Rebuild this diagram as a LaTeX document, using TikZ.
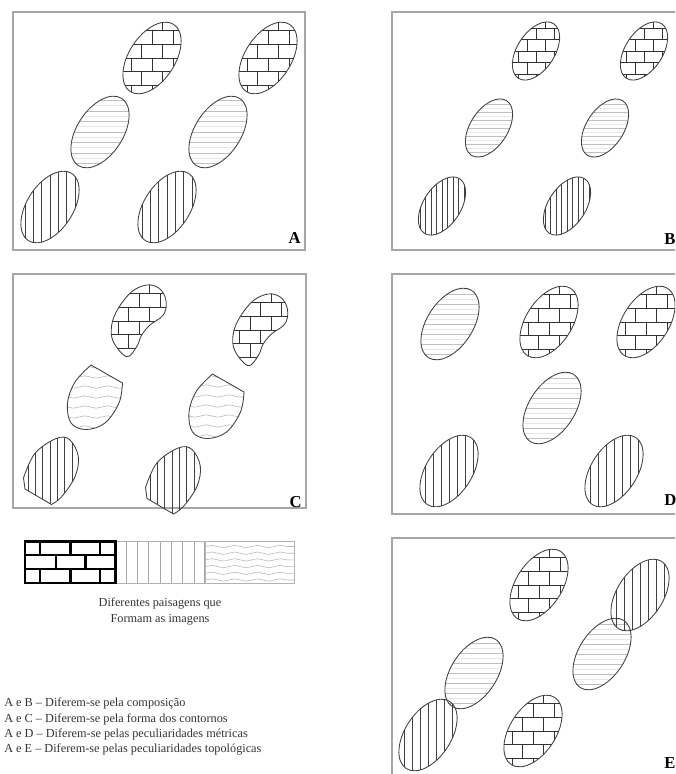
\documentclass[tikz,border=0pt]{standalone}
\usepackage{fontspec}
\setmainfont{Liberation Serif}
\usetikzlibrary{decorations.pathmorphing}

\tikzset{
  frame/.style={draw=gray!70, line width=1.1pt},
  outline/.style={draw=black!75, line width=0.65pt},
  brickline/.style={draw=black!80, line width=0.6pt},
  vline/.style={draw=black!75, line width=0.5pt},
  hline/.style={draw=gray!50, line width=0.45pt},
  hfaint/.style={draw=gray!18, line width=0.4pt},
  wline/.style={draw=gray!55, line width=0.45pt, decorate,
    decoration={snake, amplitude=0.9pt, segment length=17pt}},
  plabel/.style={font=\fontsize{12.5}{12.5}\selectfont\bfseries, inner sep=0pt},
  txt/.style={font=\fontsize{9.2}{11}\selectfont, text=black!80, inner sep=0pt},
  lbrick/.style={draw=black, line width=1.6pt},
  lgray/.style={draw=gray!60, line width=0.6pt}
}

% brick pattern: cx cy R w h
\newcommand\brickpat[5]{%
  \foreach \i in {-4,...,4}{%
    \draw[brickline] ({#1-#3},{#2+\i*#5}) -- ({#1+#3},{#2+\i*#5});
    \foreach \j in {-4,...,4}{%
      \draw[brickline] ({#1+\j*#4+mod(abs(\i),2)*#4/2},{#2+\i*#5}) -- ++(0,{#5});
    }%
  }%
}
% vertical lines: cx cy R spacing
\newcommand\vpat[4]{%
  \foreach \j in {-9,...,9}{\draw[vline] ({#1+\j*#4},{#2-#3}) -- ++(0,{2*#3});}%
}
% horizontal light lines: cx cy R spacing
\newcommand\hpat[4]{%
  \foreach \i in {-9,...,9}{%
    \draw[hline] ({#1-#3},{#2+\i*#4}) -- ++({2*#3},0);
    \draw[hfaint] ({#1-#3},{#2+\i*#4+#4/2}) -- ++({2*#3},0);
  }%
}
% wavy light lines: cx cy R spacing
\newcommand\wpat[4]{%
  \foreach \i in {-9,...,9}{\draw[wline] ({#1-#3},{#2+\i*#4}) -- ++({2*#3},0);}%
}
% tilted oval: cx cy a b pattern
\newcommand\tiltoval[5]{%
  \begin{scope}
    \clip[shift={(#1,#2)},rotate=57] (0,0) ellipse [x radius=#3, y radius=#4];
    #5
  \end{scope}
  \draw[outline,shift={(#1,#2)},rotate=57] (0,0) ellipse [x radius=#3, y radius=#4];
}

\def\beanP{plot[smooth cycle, tension=0.6] coordinates {(126.7,356.7) (113.3,341.7) (111.7,325) (118.3,308.3) (131.7,291.7) (146.7,285) (158.3,287.7) (165,296.7) (166,308.3) (161.7,316.7) (150,325) (141.7,335) (136.7,346.7)}}
\def\shieldP{plot[smooth, tension=0.6] coordinates {(122.5,383) (119,403) (105,423) (86,429.5) (71,423) (67.5,403) (75,382) (91,365)} -- cycle}
\def\capP{plot[smooth, tension=0.6] coordinates {(23.5,478) (35,453.3) (56.7,438.3) (70,440) (78.3,456.7) (75,476.7) (61.7,496.7) (51.5,504.5)} -- (25,489) -- cycle}

\begin{document}
\begin{tikzpicture}[x=0.75pt,y=-0.75pt]
\useasboundingbox (0,0) rectangle (675,774);
\clip (0,0) rectangle (675,774);

% ---------- Panel A ----------
\draw[frame] (13,12) rectangle (305,250);
\tiltoval{152}{58}{40}{23}{\brickpat{152}{58}{45}{21}{13.7}}
\tiltoval{268}{58}{40}{23}{\brickpat{268}{58}{45}{21}{13.7}}
\tiltoval{100}{132}{40}{23}{\hpat{100}{132}{45}{10.5}}
\tiltoval{218}{132}{40}{23}{\hpat{218}{132}{45}{10.5}}
\tiltoval{50}{207}{40}{23}{\vpat{50}{207}{45}{8.3}}
\tiltoval{167}{207}{40}{23}{\vpat{167}{207}{45}{8.3}}
\node[plabel, anchor=base east] (la) at (301,243) {A};

% ---------- Panel B ----------
\draw[frame] (392,12) rectangle (700,250);
\tiltoval{536}{51}{32.5}{18.7}{\brickpat{536}{51}{37}{18}{11.5}}
\tiltoval{644}{51}{32.5}{18.7}{\brickpat{644}{51}{37}{18}{11.5}}
\tiltoval{489}{128}{32.5}{18.7}{\hpat{489}{128}{37}{8}}
\tiltoval{605}{128}{32.5}{18.7}{\hpat{605}{128}{37}{8}}
\tiltoval{442}{206}{32.5}{18.7}{\vpat{442}{206}{37}{5.5}}
\tiltoval{567}{206}{32.5}{18.7}{\vpat{567}{206}{37}{5.5}}
\node[plabel, anchor=base west] (lb) at (664,244) {B};

% ---------- Panel C ----------
\draw[frame] (13,274) rectangle (306,508);
\foreach \sx/\sy in {0/0, 121.5/9}{
  \begin{scope}[shift={(\sx,\sy)}]
    \begin{scope}\clip \beanP; \brickpat{139}{321}{45}{21}{13.7}\end{scope}
    \draw[outline] \beanP;
    \begin{scope}\clip \shieldP; \wpat{95}{397}{40}{10}\end{scope}
    \draw[outline] \shieldP;
  \end{scope}
}
\foreach \sx/\sy in {0/0, 122/9.5}{
  \begin{scope}[shift={(\sx,\sy)}]
    \begin{scope}\clip \capP; \vpat{50}{471}{40}{7.3}\end{scope}
    \draw[outline] \capP;
  \end{scope}
}
\node[plabel, anchor=base east] (lc) at (302,507) {C};

% ---------- Panel D ----------
\draw[frame] (392,274) rectangle (700,514);
\tiltoval{450}{324}{40}{23}{\hpat{450}{324}{45}{10}}
\tiltoval{549}{322}{40}{23}{\brickpat{549}{322}{45}{21}{13.7}}
\tiltoval{646}{322}{40}{23}{\brickpat{646}{322}{45}{21}{13.7}}
\tiltoval{552}{408}{40}{23}{\hpat{552}{408}{45}{10}}
\tiltoval{449}{471}{40}{23}{\vpat{449}{471}{45}{8}}
\tiltoval{614}{471}{40}{23}{\vpat{614}{471}{45}{8}}
\node[plabel, anchor=base west] (ld) at (664,505) {D};

% ---------- Panel E ----------
\draw[frame] (392,538) rectangle (700,800);
\tiltoval{539}{585}{40}{23}{\brickpat{539}{585}{45}{21}{13.7}}
\tiltoval{602}{654}{40}{23}{\hpat{602}{654}{45}{10}}
\tiltoval{640}{595}{40}{23}{\vpat{640}{595}{45}{8}}
\tiltoval{474}{673}{40}{23}{\hpat{474}{673}{45}{10}}
\tiltoval{428}{735}{40}{23}{\vpat{428}{735}{45}{8}}
\tiltoval{533}{731}{40}{23}{\brickpat{533}{731}{45}{21}{13.7}}
\node[plabel, anchor=base west] (le) at (664,768) {E};

% ---------- Legend bar ----------
\foreach \x in {126,137.3,148.6,160,171.3,182.6,194,204.5}{
  \draw[draw=gray!70, line width=0.6pt] (\x,541.5) -- (\x,583);
}
\begin{scope}
  \clip (205,541.5) rectangle (294,583);
  \foreach \k in {0,...,5}{
    \draw[wline] (205,{546.5+\k*6.7}) -- (294,{546.5+\k*6.7});
  }
\end{scope}
\draw[lgray] (115,541.5) -- (294,541.5) -- (294,583) -- (115,583);
\draw[lgray] (205,541.5) -- (205,583);
\draw[lbrick] (25,541.5) rectangle (115.5,583);
\draw[lbrick] (25,555.3) -- (115.5,555.3);
\draw[lbrick] (25,569.1) -- (115.5,569.1);
\foreach \x in {40,70.5,100}{
  \draw[lbrick] (\x,541.5) -- (\x,555.3);
  \draw[lbrick] (\x,569.1) -- (\x,583);
}
\foreach \x in {56,85.5}{
  \draw[lbrick] (\x,555.3) -- (\x,569.1);
}

\node[txt, anchor=base] (cap1) at (160,606) {Diferentes paisagens que};
\node[txt, anchor=base] (cap2) at (160,622) {Formam as imagens};

\node[txt, anchor=base west] (l1) at (4,706.5) {A e B \textendash{} Diferem-se pela composição};
\node[txt, anchor=base west] (l2) at (4,722) {A e C \textendash{} Diferem-se pela forma dos contornos};
\node[txt, anchor=base west] (l3) at (4,737) {A e D \textendash{} Diferem-se pelas peculiaridades métricas};
\node[txt, anchor=base west] (l4) at (4,752.5) {A e E \textendash{} Diferem-se pelas peculiaridades topológicas};
\end{tikzpicture}
\end{document}
